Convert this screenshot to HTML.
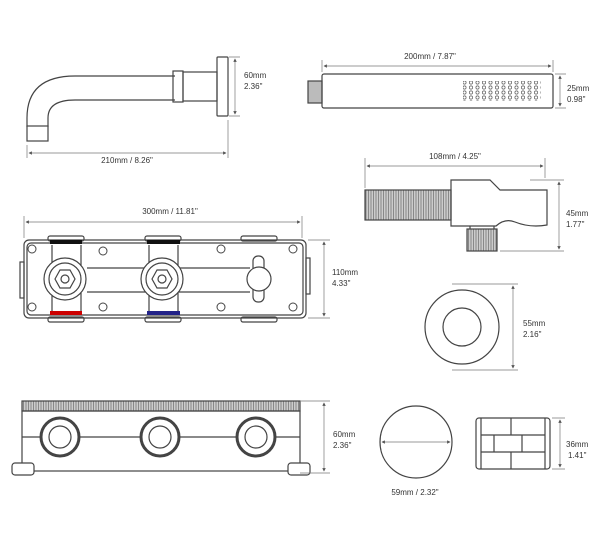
<!DOCTYPE html>
<html><head><style>body{margin:0;background:#fff}svg{display:block}text{font-family:"Liberation Sans",sans-serif;font-size:8px;fill:#333}</style></head><body>
<svg width="600" height="554" viewBox="0 0 600 554" xmlns="http://www.w3.org/2000/svg">
<defs><marker id="a" viewBox="0 0 6 6" refX="5" refY="3" markerWidth="5" markerHeight="5" orient="auto-start-reverse"><path d="M0,0L6,3L0,6z" fill="#555"/></marker>
<pattern id="dots" width="6.5" height="5" patternUnits="userSpaceOnUse"><circle cx="3" cy="2.5" r="1.6" fill="none" stroke="#555" stroke-width="0.7"/></pattern>
<pattern id="thr" width="2.5" height="10" patternUnits="userSpaceOnUse"><rect width="2.5" height="10" fill="#ccc"/><line x1="1" y1="0" x2="1" y2="10" stroke="#777" stroke-width="0.8"/></pattern></defs>
<g fill="none" stroke="#444" stroke-width="1.2">
<!-- spout -->
<path d="M27,127 L27,118 Q27,76 75,76 L175,76 M48,127 L48,118 Q48,100 75,100 L175,100"/>
<rect x="27" y="126" width="21" height="15" fill="#fff"/>
<rect x="173" y="71" width="10" height="31"/><rect x="183" y="72" width="34" height="29"/><rect x="217" y="57" width="11" height="59" rx="1"/>
<!-- hand shower -->
<rect x="308" y="81" width="14" height="22" fill="#bbb"/>
<rect x="322" y="74" width="231" height="34" rx="2"/>
<rect x="463" y="81" width="78" height="20" fill="url(#dots)" stroke="none"/>
<!-- holder -->
<rect x="365" y="190" width="86" height="30" fill="url(#thr)"/>
<path d="M451,180 L490,180 L500,190 L547,190 L547,225 Q530,228 515,222 Q505,218 496,226 L451,226 Z"/>
<rect x="467" y="229" width="30" height="22" fill="url(#thr)"/><path d="M470,226 L470,229 M494,226 L494,229"/>
<!-- valve box -->
<rect x="24" y="240" width="282" height="78" rx="5"/><rect x="27" y="243" width="276" height="72" rx="4"/>
<rect x="48" y="236" width="36" height="5" rx="2"/><rect x="145" y="236" width="36" height="5" rx="2"/><rect x="241" y="236" width="36" height="5" rx="2"/>
<rect x="48" y="317" width="36" height="5" rx="2"/><rect x="145" y="317" width="36" height="5" rx="2"/><rect x="241" y="317" width="36" height="5" rx="2"/>
<rect x="20" y="262" width="4" height="36"/><rect x="306" y="258" width="4" height="36"/>
<path d="M52,245 L52,312 M81,245 L81,312 M149,245 L149,312 M178,245 L178,312 M87,268 L250,268 M87,292 L250,292"/>
<g fill="#fff"><circle cx="65" cy="279" r="21"/><circle cx="65" cy="279" r="16"/><path d="M55,279 L60,270 L70,270 L75,279 L70,288 L60,288Z"/><circle cx="65" cy="279" r="4"/>
<circle cx="162" cy="279" r="21"/><circle cx="162" cy="279" r="16"/><path d="M152,279 L157,270 L167,270 L172,279 L167,288 L157,288Z"/><circle cx="162" cy="279" r="4"/>
<rect x="253" y="256" width="11" height="46" rx="5"/><circle cx="259" cy="279" r="12"/></g>
<g stroke-width="1"><circle cx="32" cy="249" r="4"/><circle cx="103" cy="251" r="4"/><circle cx="221" cy="249" r="4"/><circle cx="293" cy="249" r="4"/><circle cx="32" cy="307" r="4"/><circle cx="103" cy="307" r="4"/><circle cx="221" cy="307" r="4"/><circle cx="293" cy="307" r="4"/></g>
<!-- bottom box -->
<rect x="22" y="401" width="278" height="10" fill="url(#thr)"/>
<rect x="22" y="411" width="278" height="60"/>
<path d="M22,437 L42,437 M78,437 L142,437 M178,437 L237,437 M273,437 L300,437"/>
<rect x="12" y="463" width="22" height="12" rx="3" fill="#fff"/><rect x="288" y="463" width="22" height="12" rx="3" fill="#fff"/>
<g fill="#fff"><circle cx="60" cy="437" r="19" stroke-width="3"/><circle cx="60" cy="437" r="11"/><circle cx="160" cy="437" r="19" stroke-width="3"/><circle cx="160" cy="437" r="11"/><circle cx="256" cy="437" r="19" stroke-width="3"/><circle cx="256" cy="437" r="11"/></g>
<!-- escutcheon -->
<circle cx="462" cy="327" r="37"/><circle cx="462" cy="327" r="19"/>
<!-- round plate -->
<circle cx="416" cy="442" r="36"/>
<!-- tile -->
<rect x="476" y="418" width="74" height="51" rx="3"/>
<path d="M481,418 L481,469 M545,418 L545,469 M481,435 L545,435 M481,452 L545,452 M511,418 L511,435 M494,435 L494,452 M522,435 L522,452 M511,452 L511,469"/>
</g>
<rect x="50" y="240" width="32" height="4" fill="#111"/><rect x="147" y="240" width="33" height="4" fill="#111"/>
<rect x="50" y="311" width="32" height="4" fill="#c00"/><rect x="147" y="311" width="33" height="4" fill="#228"/>
<!-- dims -->
<g stroke="#777" stroke-width="0.7" fill="none">
<path d="M27,145 L27,158 M228,120 L228,158 M229,57 L240,57 M229,116 L240,116 M322,60 L322,72 M553,60 L553,72 M555,74 L566,74 M555,108 L566,108 M365,158 L365,188 M545,158 L545,178 M530,180 L564,180 M500,251 L564,251 M24,216 L24,238 M302,216 L302,238 M308,240 L330,240 M308,318 L330,318 M300,401 L330,401 M300,473 L330,473 M452,284 L518,284 M452,370 L518,370 M552,418 L565,418 M552,469 L565,469"/>
<g marker-start="url(#a)" marker-end="url(#a)">
<line x1="29" y1="153" x2="226" y2="153"/><line x1="235" y1="59" x2="235" y2="114"/>
<line x1="324" y1="66" x2="551" y2="66"/><line x1="560" y1="76" x2="560" y2="106"/>
<line x1="367" y1="166" x2="543" y2="166"/><line x1="559" y1="182" x2="559" y2="249"/>
<line x1="26" y1="222" x2="300" y2="222"/><line x1="324" y1="242" x2="324" y2="316"/>
<line x1="324" y1="403" x2="324" y2="471"/><line x1="513" y1="286" x2="513" y2="368"/>
<line x1="382" y1="442" x2="450" y2="442"/><line x1="560" y1="420" x2="560" y2="467"/></g></g>
<text x="244" y="78">60mm</text><text x="244" y="89">2.36"</text>
<text x="127" y="163" text-anchor="middle">210mm / 8.26"</text>
<text x="430" y="59" text-anchor="middle">200mm / 7.87"</text>
<text x="567" y="91">25mm</text><text x="567" y="102">0.98"</text>
<text x="455" y="159" text-anchor="middle">108mm / 4.25"</text>
<text x="566" y="216">45mm</text><text x="566" y="227">1.77"</text>
<text x="170" y="214" text-anchor="middle">300mm / 11.81"</text>
<text x="332" y="275">110mm</text><text x="332" y="286">4.33"</text>
<text x="333" y="437">60mm</text><text x="333" y="448">2.36"</text>
<text x="523" y="326">55mm</text><text x="523" y="337">2.16"</text>
<text x="415" y="495" text-anchor="middle">59mm / 2.32"</text>
<text x="566" y="447">36mm</text><text x="568" y="458">1.41"</text>
</svg></body></html>
